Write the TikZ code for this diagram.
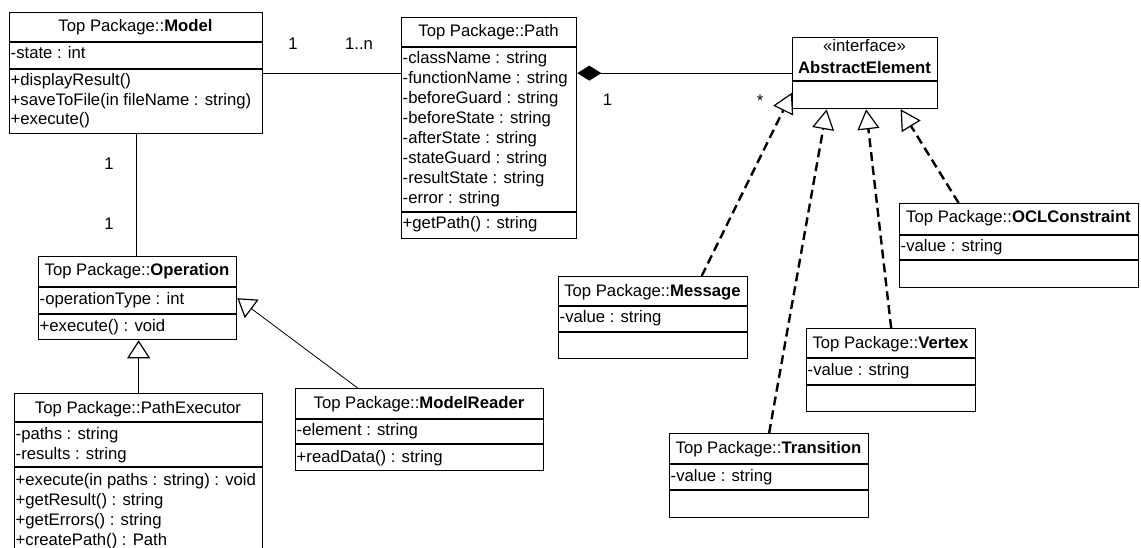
\documentclass[tikz,border=0pt]{standalone}
\usepackage{fontspec}
\setmainfont{Liberation Sans}
\usetikzlibrary{arrows.meta}

\newcommand{\umlfont}{\fontsize{16.7}{20}\selectfont}

\tikzset{
  cls/.style={draw,line width=1.3pt,anchor=north west,inner sep=0pt},
  sep/.style={line width=1.3pt},
  ttl/.style={anchor=base,inner sep=0pt,font=\umlfont},
  row/.style={anchor=base west,inner sep=0pt,font=\umlfont},
  mult/.style={anchor=base,inner sep=0pt,font=\umlfont},
  assoc/.style={line width=1pt},
  compo/.style={line width=1pt,-{Diamond[length=24pt,width=15pt]}},
  gener/.style={line width=0.8pt,-{Triangle[open,length=18pt,width=23pt,line width=1.2pt]}},
  real/.style={line width=2.4pt,dash pattern=on 9pt off 5pt,-{Triangle[open,length=20pt,width=22pt,line width=1.2pt]}}
}

\begin{document}
\begin{tikzpicture}[x=1pt,y=-1pt]
\useasboundingbox (0,0) rectangle (1141,548);

%-------------------Model--------------------%
\node[cls,minimum width=253,minimum height=121] (model) at (9,12) {};
\draw[sep] (9,42) -- (262,42);
\draw[sep] (9,69) -- (262,69);
\node[ttl] (model-t) at (135.5,32) {Top Package::\textbf{Model}};
\node[row] (model-a1) at (10.5,59) {-state : int};
\node[row] (model-m1) at (10.5,86) {+displayResult()};
\node[row] (model-m2) at (10.5,105.5) {+saveToFile(in fileName : string)};
\node[row] (model-m3) at (10.5,125) {+execute()};

%-------------------Path--------------------%
\node[cls,minimum width=175,minimum height=221] (path) at (401,17) {};
\draw[sep] (401,47) -- (576,47);
\draw[sep] (401,212) -- (576,212);
\node[ttl] (path-t) at (488.5,37) {Top Package::Path};
\node[row] (path-a1) at (402.5,64) {-className : string};
\node[row] (path-a2) at (402.5,84) {-functionName : string};
\node[row] (path-a3) at (402.5,104) {-beforeGuard : string};
\node[row] (path-a4) at (402.5,124) {-beforeState : string};
\node[row] (path-a5) at (402.5,144) {-afterState : string};
\node[row] (path-a6) at (402.5,164) {-stateGuard : string};
\node[row] (path-a7) at (402.5,184) {-resultState : string};
\node[row] (path-a8) at (402.5,204) {-error : string};
\node[row] (path-m1) at (402.5,229) {+getPath() : string};

%-------------------AbstractElement--------------------%
\node[cls,minimum width=145,minimum height=71] (absel) at (792,37) {};
\draw[sep] (792,81) -- (937,81);
\node[ttl] (absel-s) at (864.5,52) {«interface»};
\node[ttl] (absel-t) at (864.5,74) {\textbf{AbstractElement}};

%-------------------Operation--------------------%
\node[cls,minimum width=198,minimum height=83] (oper) at (38,256) {};
\draw[sep] (38,287) -- (236,287);
\draw[sep] (38,314) -- (236,314);
\node[ttl] (oper-t) at (137,276) {Top Package::\textbf{Operation}};
\node[row] (oper-a1) at (39.5,304) {-operationType : int};
\node[row] (oper-m1) at (39.5,331) {+execute() : void};

%-------------------PathExecutor--------------------%
\node[cls,minimum width=248,minimum height=170] (pexec) at (14,393) {};
\draw[sep] (14,422) -- (262,422);
\draw[sep] (14,467) -- (262,467);
\node[ttl] (pexec-t) at (138,413) {Top Package::PathExecutor};
\node[row] (pexec-a1) at (15.5,439) {-paths : string};
\node[row] (pexec-a2) at (15.5,459) {-results : string};
\node[row] (pexec-m1) at (15.5,485) {+execute(in paths : string) : void};
\node[row] (pexec-m2) at (15.5,505) {+getResult() : string};
\node[row] (pexec-m3) at (15.5,525) {+getErrors() : string};
\node[row] (pexec-m4) at (15.5,545) {+createPath() : Path};

%-------------------ModelReader--------------------%
\node[cls,minimum width=248,minimum height=82] (mreader) at (295,388) {};
\draw[sep] (295,419) -- (543,419);
\draw[sep] (295,444) -- (543,444);
\node[ttl] (mreader-t) at (419,408) {Top Package::\textbf{ModelReader}};
\node[row] (mreader-a1) at (296.5,435) {-element : string};
\node[row] (mreader-m1) at (296.5,462) {+readData() : string};

%-------------------Message--------------------%
\node[cls,minimum width=189,minimum height=82] (msg) at (558,276) {};
\draw[sep] (558,306) -- (747,306);
\draw[sep] (558,332) -- (747,332);
\node[ttl] (msg-t) at (652.5,296) {Top Package::\textbf{Message}};
\node[row] (msg-a1) at (559.5,323) {-value : string};

%-------------------Vertex--------------------%
\node[cls,minimum width=169,minimum height=83] (vertex) at (806,328) {};
\draw[sep] (806,358) -- (975,358);
\draw[sep] (806,385) -- (975,385);
\node[ttl] (vertex-t) at (890.5,348) {Top Package::\textbf{Vertex}};
\node[row] (vertex-a1) at (807.5,375) {-value : string};

%-------------------Transition--------------------%
\node[cls,minimum width=199,minimum height=84] (trans) at (669,433) {};
\draw[sep] (669,464) -- (868,464);
\draw[sep] (669,490) -- (868,490);
\node[ttl] (trans-t) at (768.5,453) {Top Package::\textbf{Transition}};
\node[row] (trans-a1) at (670.5,481) {-value : string};

%-------------------OCLConstraint--------------------%
\node[cls,minimum width=239,minimum height=84] (ocl) at (899,203) {};
\draw[sep] (899,235) -- (1138,235);
\draw[sep] (899,260) -- (1138,260);
\node[ttl] (ocl-t) at (1018.5,223) {Top Package::\textbf{OCLConstraint}};
\node[row] (ocl-a1) at (900.5,252) {-value : string};

%-------------------Connectors--------------------%
\draw[assoc] (model.east) -- (model.east -| path.west);
\draw[assoc] (model.south) -- (model.south |- oper.north);
\draw[compo] (absel.west) -- (absel.west -| path.east);
\draw[gener] (pexec.north) -- (pexec.north |- oper.south);
\draw[gener] ([xshift=-62pt]mreader.north) -- (oper.east);
\draw[real] ([xshift=48.5pt]msg.north) -- ([yshift=-19.5pt]absel.west);
\draw[real] (trans.north) -- ([xshift=-38.5pt]absel.south);
\draw[real] (vertex.north) -- ([xshift=1pt]absel.south);
\draw[real] ([xshift=-60.5pt]ocl.north) -- ([xshift=35.5pt]absel.south);

%-------------------Multiplicities--------------------%
\node[mult] (m-model-r) at (293,49.5) {1};
\node[mult] (m-path-l) at (359,49.5) {1..n};
\node[mult] (m-model-b) at (109,170) {1};
\node[mult] (m-oper-t) at (109,230) {1};
\node[mult] (m-path-r) at (607.5,106) {1};
\node[mult] (m-absel-l) at (760,107) {*};
\end{tikzpicture}
\end{document}
